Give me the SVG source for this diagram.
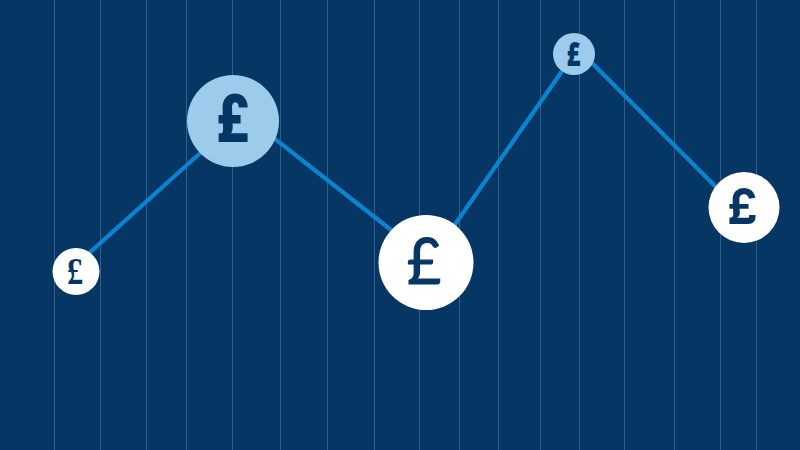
<svg xmlns="http://www.w3.org/2000/svg" width="800" height="450" viewBox="0 0 800 450">
<style>
.grid line{stroke:#2f5f8c;stroke-width:1}
.conn line{stroke:#0a84d0;stroke-width:4.200}
.white{fill:#fff}
.pale{fill:#9ccbec}
text{fill:#063764;text-anchor:middle}
</style>
<rect width="800" height="450" fill="#063764"/>
<g class="grid">
<line x1="54.5" y1="0" x2="54.5" y2="450"/><line x1="100.5" y1="0" x2="100.5" y2="450"/><line x1="146.5" y1="0" x2="146.5" y2="450"/><line x1="186.5" y1="0" x2="186.5" y2="450"/><line x1="232.5" y1="0" x2="232.5" y2="450"/><line x1="280.5" y1="0" x2="280.5" y2="450"/><line x1="327.5" y1="0" x2="327.5" y2="450"/><line x1="374.5" y1="0" x2="374.5" y2="450"/><line x1="419.5" y1="0" x2="419.5" y2="450"/><line x1="459.5" y1="0" x2="459.5" y2="450"/><line x1="498.5" y1="0" x2="498.5" y2="450"/><line x1="540.5" y1="0" x2="540.5" y2="450"/><line x1="579.5" y1="0" x2="579.5" y2="450"/><line x1="624.5" y1="0" x2="624.5" y2="450"/><line x1="674.5" y1="0" x2="674.5" y2="450"/><line x1="720.5" y1="0" x2="720.5" y2="450"/><line x1="756.5" y1="0" x2="756.5" y2="450"/>
</g>
<g class="conn" id="connectors">
<line x1="82" y1="259.500" x2="208" y2="146"/>
<line x1="265" y1="131.200" x2="400" y2="237"/>
<line x1="450" y1="231.500" x2="570" y2="59.800"/>
<line x1="585" y1="56" x2="725" y2="196"/>
</g>
<g id="node1"><circle class="white" cx="76" cy="271.500" r="23.500"/><text transform="translate(75 284) scale(.85 1)" font-family="Liberation Serif, serif" font-weight="700" font-size="38">£</text></g>
<g id="node2"><circle class="pale" cx="233" cy="121" r="46"/><text transform="translate(232.500 142) scale(.84 1)" font-family="Roboto, sans-serif" font-weight="900" font-size="66">£</text></g>
<g id="node3"><circle class="white" cx="426" cy="262.500" r="47.500"/><text transform="translate(424 284) scale(.92 1)" font-family="Lato, sans-serif" font-weight="400" font-size="64" stroke="#063764" stroke-width="1.200">£</text></g>
<g id="node4"><circle class="pale" cx="574" cy="54" r="21"/><text transform="translate(573.500 66) scale(.72 1)" font-family="Open Sans, sans-serif" font-weight="800" font-size="33">£</text></g>
<g id="node5"><circle class="white" cx="744" cy="207.500" r="35.500"/><text transform="translate(742.500 224) scale(.95 1)" font-family="Inter, sans-serif" font-weight="700" font-size="50">£</text></g>
</svg>
